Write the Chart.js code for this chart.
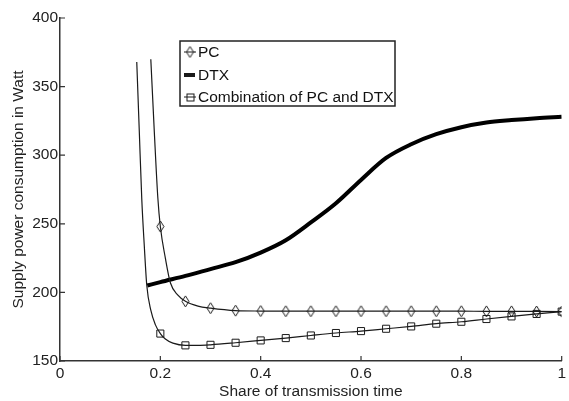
<!DOCTYPE html>
<html>
<head>
<meta charset="utf-8">
<script src="https://cdn.jsdelivr.net/npm/chart.js@4"></script>
<style>
  html, body { margin: 0; padding: 0; background: #fff; }
  #wrap { width: 569px; height: 401px; }
</style>
</head>
<body>
<div id="wrap"><canvas id="power-chart"></canvas></div>
<script>
// Values (x = share of transmission time, y = Watt)
let pcX = [0.181, 0.188, 0.195, 0.2, 0.21, 0.22, 0.235, 0.25, 0.275, 0.3, 0.35, 0.4, 0.45, 0.5, 0.55, 0.6, 0.65, 0.7, 0.75, 0.8, 0.85, 0.9, 0.95, 1]
let pcY = [370, 317, 269, 248, 225, 207, 198, 193.5, 190, 188.5, 186.7, 186.4, 186.3, 186.3, 186.3, 186.3, 186.3, 186.3, 186.3, 186.3, 186.2, 186.2, 186.1, 186]

let dtxX = [0.174, 0.2, 0.25, 0.3, 0.35, 0.4, 0.45, 0.5, 0.55, 0.6, 0.65, 0.7, 0.75, 0.8, 0.85, 0.9, 0.95, 1]
let dtxY = [205, 207.5, 212, 217, 222, 229, 238, 251, 265, 282, 298, 308, 315.3, 320.4, 323.8, 325.6, 327, 328]

let combX = [0.153, 0.158, 0.163, 0.168, 0.173, 0.181, 0.19, 0.2, 0.21, 0.225, 0.25, 0.275, 0.3, 0.35, 0.4, 0.45, 0.5, 0.55, 0.6, 0.65, 0.7, 0.75, 0.8, 0.85, 0.9, 0.95, 1]
let combY = [368, 318, 268, 234, 205, 187, 176.5, 170, 166, 163, 161.4, 161.4, 161.8, 163.3, 165, 166.7, 168.6, 170.4, 171.8, 173.5, 175.2, 177.2, 178.6, 180.6, 182.5, 184.3, 186]

let xTicks = [0, 0.2, 0.4, 0.6, 0.8, 1]
let yTicks = [150, 200, 250, 300, 350, 400]

let seriesNames = ['PC', 'DTX', 'Combination of PC and DTX']
let lineColor = '#1a1a1a'
let axisColor = '#333'
let fontFamily = "'Liberation Sans', Arial, sans-serif"
let fontSize = 15.5

// Turn two lists into points for a linear x axis
function toPoints(xs, ys) {
    return xs.map(function(x, i) { return { x: x, y: ys[i] } })
}

// Markers only sit on every 0.05 step from 0.2 on
function markerRadius(r) {
    return function(ctx) {
        let x = ctx.raw ? ctx.raw.x : 0
        let onStep = Math.abs(x * 20 - Math.round(x * 20)) < 1e-6
        return (onStep && x >= 0.2 - 1e-6) ? r : 0
    }
}

// Tall thin diamond like the original marker
function makeDiamond(w, h) {
    let c = document.createElement('canvas')
    c.width = w + 2
    c.height = h + 2
    let g = c.getContext('2d')
    g.strokeStyle = lineColor
    g.lineWidth = 1
    g.beginPath()
    g.moveTo(c.width / 2, 1)
    g.lineTo(c.width - 1, c.height / 2)
    g.lineTo(c.width / 2, c.height - 1)
    g.lineTo(1, c.height / 2)
    g.closePath()
    g.stroke()
    return c
}
let diamond = makeDiamond(7, 11)

// Inward tick marks on the two axes
let tickMarks = {
    id: 'tickMarks',
    afterDraw(chart) {
        let ctx = chart.ctx
        let area = chart.chartArea
        let xs = chart.scales.x
        let ys = chart.scales.y
        ctx.save()
        ctx.strokeStyle = axisColor
        ctx.lineWidth = 1.2
        ctx.beginPath()
        xTicks.forEach(function(v) {
            let px = xs.getPixelForValue(v)
            ctx.moveTo(px, area.bottom)
            ctx.lineTo(px, area.bottom - 5)
        })
        yTicks.forEach(function(v) {
            let py = ys.getPixelForValue(v)
            ctx.moveTo(area.left, py)
            ctx.lineTo(area.left + 5, py)
        })
        ctx.stroke()
        ctx.restore()
    }
}

// Boxed legend inside the plot, top left
let boxLegend = {
    id: 'boxLegend',
    afterDatasetsDraw(chart) {
        let ctx = chart.ctx
        let left = 180, top = 41, width = 215, height = 65
        ctx.save()
        ctx.fillStyle = '#fff'
        ctx.fillRect(left, top, width, height)
        ctx.strokeStyle = '#222'
        ctx.lineWidth = 1.5
        ctx.strokeRect(left, top, width, height)

        let rows = [52, 75, 97]
        ctx.font = fontSize + 'px ' + fontFamily
        ctx.fillStyle = '#111'
        ctx.textBaseline = 'middle'
        rows.forEach(function(y, i) {
            ctx.strokeStyle = lineColor
            if (i === 1) {
                ctx.lineWidth = 4
                ctx.beginPath()
                ctx.moveTo(184, y)
                ctx.lineTo(195, y)
                ctx.stroke()
            } else {
                ctx.lineWidth = 1
                ctx.beginPath()
                ctx.moveTo(184, y)
                ctx.lineTo(196, y)
                ctx.stroke()
                if (i === 0) {
                    ctx.drawImage(diamond, 190 - diamond.width / 2, y - diamond.height / 2)
                } else {
                    ctx.strokeRect(187, y - 3, 7, 7)
                }
            }
            ctx.fillText(seriesNames[i], 198, y + 1)
        })
        ctx.restore()
    }
}

let canvas = document.querySelector('#power-chart')
let context = canvas.getContext('2d')

let powerChart = new Chart(context, {
    type: 'line',
    data: {
        datasets: [
            {
                label: seriesNames[0],
                data: toPoints(pcX, pcY),
                borderColor: lineColor,
                borderWidth: 1.2,
                backgroundColor: 'transparent',
                pointStyle: diamond,
                pointRadius: markerRadius(5),
                cubicInterpolationMode: 'monotone'
            },
            {
                label: seriesNames[1],
                data: toPoints(dtxX, dtxY),
                borderColor: '#000',
                borderWidth: 4,
                pointRadius: 0,
                cubicInterpolationMode: 'monotone'
            },
            {
                label: seriesNames[2],
                data: toPoints(combX, combY),
                borderColor: lineColor,
                borderWidth: 1.2,
                backgroundColor: 'transparent',
                pointStyle: 'rect',
                pointBorderWidth: 1,
                pointRadius: markerRadius(5),
                cubicInterpolationMode: 'monotone'
            }
        ]
    },
    options: {
        responsive: true,
        maintainAspectRatio: false,
        animation: false,
        devicePixelRatio: 1,
        layout: { padding: { top: 18, right: 4, left: 0, bottom: 0 } },
        plugins: {
            legend: { display: false },
            tooltip: { enabled: false }
        },
        scales: {
            x: {
                type: 'linear',
                min: 0,
                max: 1,
                afterBuildTicks: function(scale) {
                    scale.ticks = xTicks.map(function(v) { return { value: v } })
                },
                afterFit: function(scale) { scale.height = 40 },
                ticks: {
                    color: '#222',
                    font: { family: fontFamily, size: fontSize },
                    padding: 3,
                    maxRotation: 0,
                    callback: function(v) { return String(Number(v.toFixed(1))) }
                },
                grid: { display: false, drawTicks: false },
                border: { display: true, color: axisColor, width: 1.5 },
                title: {
                    display: true,
                    text: 'Share of transmission time',
                    color: '#222',
                    font: { family: fontFamily, size: fontSize },
                    padding: { top: 2, bottom: 0 }
                }
            },
            y: {
                min: 150,
                max: 400,
                afterBuildTicks: function(scale) {
                    scale.ticks = yTicks.map(function(v) { return { value: v } })
                },
                afterFit: function(scale) { scale.width = 60 },
                ticks: {
                    color: '#222',
                    font: { family: fontFamily, size: fontSize },
                    padding: 2
                },
                grid: { display: false, drawTicks: false },
                border: { display: true, color: axisColor, width: 1.5 },
                title: {
                    display: true,
                    text: 'Supply power consumption in Watt',
                    color: '#222',
                    font: { family: fontFamily, size: fontSize },
                    padding: { top: 9, bottom: 0 }
                }
            }
        }
    },
    plugins: [tickMarks, boxLegend]
})
</script>
</body>
</html>
